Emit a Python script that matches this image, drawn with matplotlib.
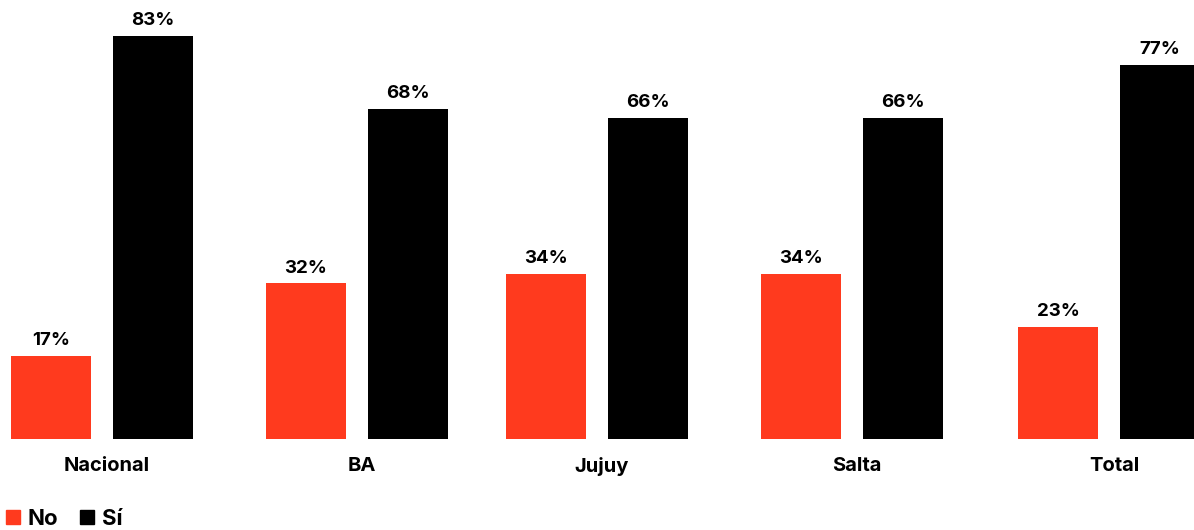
import numpy as np
import matplotlib.pyplot as plt
from matplotlib.patches import Patch

regiones = ['Nacional', 'BA', 'Jujuy', 'Salta', 'Total']
no_vals = [17, 32, 34, 34, 23]
si_vals = [83, 68, 66, 66, 77]

rojo = '#FF3A1E'
negro = '#000000'

plt.rcParams['font.family'] = ['Inter', 'DejaVu Sans']

fig = plt.figure(figsize=(11.94, 5.30), dpi=100)
ax = fig.add_axes([0, 91 / 530, 1, 439 / 530])

# group centres in pixel-like units across the width
centros = np.array([102, 357, 597, 851.5, 1109])
ancho = 80
sep = 51

b_no = ax.bar(centros - sep, no_vals, width=ancho, color=rojo, label='No')
b_si = ax.bar(centros + sep, si_vals, width=ancho, color=negro, label='Sí')

for barras, vals in [(b_no, no_vals), (b_si, si_vals)]:
    for b, v in zip(barras, vals):
        ax.annotate(f'{v}%', (b.get_x() + b.get_width() / 2, v),
                    xytext=(0, 5), textcoords='offset points',
                    ha='center', va='bottom', fontsize=13.5, fontweight='bold')

ax.set_xlim(0, 1194)
ax.set_ylim(0, 439 / 4.86)
ax.set_xticks(centros + 5)
ax.set_xticklabels(regiones, fontsize=14.5, fontweight='bold')
ax.tick_params(axis='x', length=0, pad=13)
ax.set_yticks([])
for s in ax.spines.values():
    s.set_visible(False)

handles = [Patch(color=rojo, label='No'), Patch(color=negro, label='Sí')]
fig.legend(handles=handles, loc='lower left', bbox_to_anchor=(6 / 1194, 1 / 530),
           ncol=2, frameon=False, borderpad=0, borderaxespad=0,
           handlelength=0.62, handleheight=0.62,
           handletextpad=0.35, columnspacing=1.0,
           prop={'size': 16, 'weight': 'bold'})

fig.savefig('out.png', dpi=100)
